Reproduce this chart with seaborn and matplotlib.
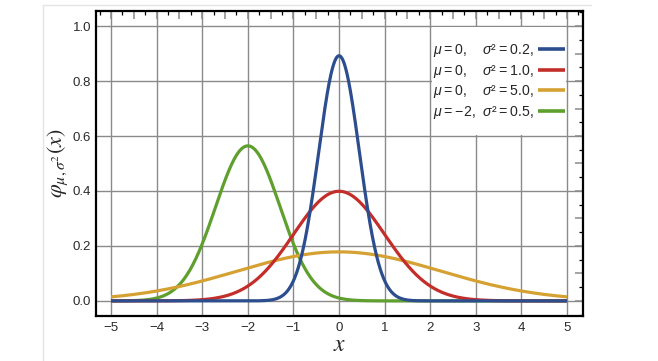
import numpy as np
import pandas as pd
import matplotlib
matplotlib.use("Agg")
import matplotlib.pyplot as plt
import seaborn as sns
from matplotlib.ticker import MultipleLocator, FuncFormatter
from matplotlib.patches import Rectangle
from matplotlib.lines import Line2D

mu = [0.0, 0.0, 0.0, -2.0]
sigma2 = [0.2, 1.0, 5.0, 0.5]
T = "\u2009"
labels = [f"$\\mu${T}={T}0,    $\\sigma$²{T}={T}0.2,",
          f"$\\mu${T}={T}0,    $\\sigma$²{T}={T}1.0,",
          f"$\\mu${T}={T}0,    $\\sigma$²{T}={T}5.0,",
          f"$\\mu${T}={T}−2,  $\\sigma$²{T}={T}0.5,"]
colors = ["#2D4E8E", "#C32E2A", "#D6A133", "#5E9F2E"]
x_ticks = [-5, -4, -3, -2, -1, 0, 1, 2, 3, 4, 5]
y_ticks = [0.0, 0.2, 0.4, 0.6, 0.8, 1.0]

x = np.linspace(-5, 5, 1001)
frames = []
for m, s2, lab in zip(mu, sigma2, labels):
    y = np.exp(-(x - m) ** 2 / (2 * s2)) / np.sqrt(2 * np.pi * s2)
    frames.append(pd.DataFrame({"x": x, "y": y, "label": lab}))
df = pd.concat(frames, ignore_index=True)

sns.set_theme(style="white")
plt.rcParams["font.family"] = ["Liberation Sans", "DejaVu Sans"]
plt.rcParams["mathtext.fontset"] = "custom"
plt.rcParams["mathtext.rm"] = "Liberation Sans"
plt.rcParams["mathtext.it"] = "Liberation Sans:italic"
plt.rcParams["mathtext.sf"] = "Liberation Sans"

fig = plt.figure(figsize=(6.58, 3.61), dpi=100)
ax = fig.add_axes([96 / 658, 1 - 316 / 361, 487 / 658, 305 / 361])

sns.lineplot(data=df, x="x", y="y", hue="label", hue_order=labels,
             palette=colors, linewidth=2.3, ax=ax, legend=False,
             estimator=None, sort=False)
lines = list(ax.get_lines())
for i, ln in enumerate(lines):
    ln.set_zorder(5 - 0.1 * i)
    ln.set_solid_capstyle("butt")
lines[0].set_zorder(6)

ax.set_xlim(-5.33, 5.35)
ax.set_ylim(-0.055, 1.055)

# grid
grid_c = "#8a8a8a"
for gx in x_ticks:
    ax.axvline(gx, color=grid_c, lw=1.0, zorder=1)
for gy in y_ticks:
    ax.axhline(gy, color=grid_c, lw=1.0, zorder=1)

# white legend area
ax.add_patch(Rectangle((2.03, 0.603), 2.94, 0.393, facecolor="white",
                       edgecolor="none", zorder=2))

# ticks
ax.xaxis.set_major_locator(MultipleLocator(0.5))
ax.xaxis.set_minor_locator(MultipleLocator(0.25))
ax.yaxis.set_major_locator(MultipleLocator(0.1))
ax.yaxis.set_minor_locator(MultipleLocator(0.05))

def xfmt(v, pos):
    r = round(v)
    if abs(v - r) < 1e-6:
        return str(int(r)).replace("-", "−")
    return ""

def yfmt(v, pos):
    k = round(v * 10)
    if abs(v * 10 - k) < 1e-6 and k % 2 == 0:
        return f"{v:.1f}"
    return ""

ax.xaxis.set_major_formatter(FuncFormatter(xfmt))
ax.yaxis.set_major_formatter(FuncFormatter(yfmt))
ax.tick_params(which="major", direction="in", length=5.5, width=1.1,
               color="#8a8a8a", top=True, right=True, labelsize=9.5,
               labelcolor="#2a2a2a", pad=3.5)
ax.tick_params(which="minor", direction="in", length=2.6, width=0.9,
               color="black", top=True, right=True)
ax.tick_params(axis="x", which="major", pad=4.5)

for sp in ax.spines.values():
    sp.set_visible(True)
    sp.set_color("black")
    sp.set_linewidth(1.6)
    sp.set_zorder(10)

ax.set_xlabel(r"$x$", fontsize=17, labelpad=0, math_fontfamily="stix")
ax.set_ylabel(r"$\varphi_{\mu,\sigma^2}(x)$", fontsize=16, labelpad=2,
              math_fontfamily="stix")

leg = ax.legend(lines, labels, loc="upper left",
                bbox_to_anchor=(0.692, 0.899), frameon=False,
                markerfirst=False, fontsize=10.2, handlelength=1.85,
                handletextpad=0.3, labelspacing=0.27, borderpad=0,
                borderaxespad=0)
for h in leg.get_lines():
    h.set_linewidth(2.6)
leg.set_zorder(12)

# faint image frame
fig.add_artist(Line2D([43 / 658, 591 / 658], [1 - 5 / 361, 1 - 5 / 361],
                      color="#e4e4e4", lw=1.0))
fig.add_artist(Line2D([43 / 658, 43 / 658], [1 - 5 / 361, 0],
                      color="#e4e4e4", lw=1.0))

fig.savefig("out.png", dpi=100, facecolor="white")
